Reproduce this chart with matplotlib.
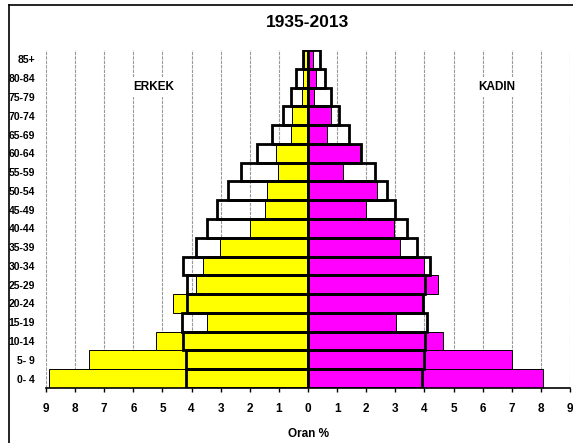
import matplotlib

matplotlib.use("Agg")

import matplotlib.pyplot as plt
from matplotlib.lines import Line2D
import numpy as np

plt.rcParams["font.family"] = ["Liberation Sans", "DejaVu Sans"]
plt.rcParams["font.weight"] = "bold"

age_groups = ["0- 4", "5- 9", "10-14", "15-19", "20-24", "25-29", "30-34",
              "35-39", "40-44", "45-49", "50-54", "55-59", "60-64", "65-69",
              "70-74", "75-79", "80-84", "85+"]

# 1935 shares (coloured bars)
male_1935 = [8.89, 7.51, 5.23, 3.46, 4.65, 3.86, 3.61, 3.01, 2.00, 1.49,
             1.42, 1.02, 1.10, 0.59, 0.55, 0.22, 0.18, 0.14]
female_1935 = [8.08, 7.01, 4.64, 3.01, 3.92, 4.47, 3.98, 3.16, 2.95, 1.98,
               2.37, 1.20, 1.80, 0.65, 0.79, 0.21, 0.29, 0.17]

# 2013 shares (outlined bars)
male_2013 = [4.20, 4.20, 4.31, 4.34, 4.15, 4.17, 4.31, 3.86, 3.48, 3.12,
             2.76, 2.31, 1.74, 1.23, 0.85, 0.59, 0.42, 0.18]
female_2013 = [3.93, 3.97, 4.03, 4.08, 3.96, 4.03, 4.20, 3.73, 3.40, 3.00,
               2.71, 2.31, 1.81, 1.40, 1.07, 0.78, 0.60, 0.40]

x_ticks = np.arange(-9, 10)

fig = plt.figure(figsize=(5.73, 4.43), dpi=100)
ax = fig.add_axes([0.0803, 0.1242, 0.9145, 0.7629])

y = np.arange(len(age_groups))

ax.barh(y, -np.array(male_1935), height=1.0, color="#FFFF00",
        edgecolor="black", linewidth=0.7, zorder=2)
ax.barh(y, female_1935, height=1.0, color="#FF00FF",
        edgecolor="black", linewidth=0.7, zorder=2)
ax.barh(y, -np.array(male_2013), height=1.0, fill=False,
        edgecolor="black", linewidth=2.0, zorder=3)
ax.barh(y, female_2013, height=1.0, fill=False,
        edgecolor="black", linewidth=2.0, zorder=3)

ax.set_xlim(-9, 9)
ax.set_ylim(-0.5, len(age_groups) - 0.5)

for xv in x_ticks:
    ax.axvline(xv, color="#999999", linestyle=(0, (3, 1)), linewidth=0.8,
               zorder=1)

ax.set_xticks(x_ticks)
ax.set_xticklabels([str(abs(v)) for v in x_ticks], fontsize=8.5,
                   fontweight="bold")
ax.set_yticks(y)
ax.set_yticklabels(age_groups, fontsize=7.5, fontweight="bold")
ax.tick_params(axis="y", length=0, pad=8)
ax.tick_params(axis="x", direction="out", length=3, width=1, pad=8)

for side in ["left", "top", "right"]:
    ax.spines[side].set_visible(False)
ax.spines["bottom"].set_linewidth(1.2)

ax.set_xlabel("Oran %", fontsize=8.5, fontweight="bold", labelpad=9)

text_box = dict(facecolor="white", edgecolor="none", pad=3)
ax.text(-5.29, 15.53, "ERKEK", ha="center", va="center", fontsize=8.5,
        fontweight="bold", bbox=text_box, zorder=4)
ax.text(6.5, 15.53, "KADIN", ha="center", va="center", fontsize=8.5,
        fontweight="bold", bbox=text_box, zorder=4)

fig.text(0.537, 0.95, "1935-2013", ha="center", va="center", fontsize=12.5,
         fontweight="bold")

# outer chart border
fig.add_artist(Line2D([0.016, 1.0], [0.989, 0.989], color="black",
                      linewidth=1.2))
fig.add_artist(Line2D([0.016, 0.016], [0.0, 0.989], color="black",
                      linewidth=1.2))

fig.savefig("out.png", dpi=100)
